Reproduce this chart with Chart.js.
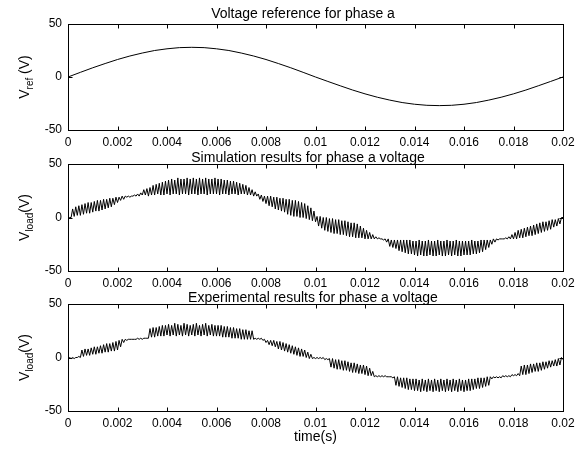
<!DOCTYPE html>
<html>
<head>
<meta charset="utf-8">
<script src="https://cdn.jsdelivr.net/npm/chart.js@4.4.1/dist/chart.umd.min.js"></script>
<style>
  body { margin: 0; background: #fff; }
  #wrap { position: relative; width: 581px; height: 449px; }
  canvas { position: absolute; left: 0; }
</style>
</head>
<body>
<div id="wrap">
  <canvas id="c1" width="581" height="150" style="top:0"></canvas>
  <canvas id="c2" width="581" height="150" style="top:140px"></canvas>
  <canvas id="c3" width="581" height="169" style="top:280px"></canvas>
</div>
<script>
// ---- data ----
const xTicks = ["0", "0.002", "0.004", "0.006", "0.008", "0.01", "0.012", "0.014", "0.016", "0.018", "0.02"];
const yTicks = ["-50", "0", "50"];

// reference sine, one value every 0.5 ms
const refStep = 0.0005;
const vRef = [0, 4.4, 8.7, 12.7, 16.5, 19.8, 22.6, 25, 26.6, 27.7,
              28, 27.7, 26.6, 25, 22.6, 19.8, 16.5, 12.7, 8.7, 4.4,
              0, -4.2, -8.3, -12.3, -15.9, -19.1, -21.8, -24.1, -25.7, -26.7,
              -27, -26.7, -25.7, -24.1, -21.8, -19.1, -15.9, -12.3, -8.3, -4.2, 0];

// switching waveforms: low / high level of each switching period
// (8 periods per ms, one row per ms)
const pwmStep = 0.000125;
const simLo = [
  0, 0, 1, 2, 2, 3, 4, 4,
  5, 6, 6, 7, 8, 9, 10, 12,
  14, 16, 17, 19, 19, 20, 20, 20,
  21, 21, 20, 21, 21, 22, 21, 21,
  22, 21, 22, 22, 21, 22, 22, 21,
  22, 22, 21, 22, 22, 21, 22, 22,
  22, 21, 22, 22, 21, 22, 22, 21,
  22, 22, 21, 21, 20, 20, 17, 15,
  13, 11, 10, 8, 7, 6, 5, 3,
  2, 1, 1, 0, 0, -1, -2, -3,
  -4, -8, -10, -12, -13, -14, -15, -15,
  -16, -16, -17, -18, -18, -19, -19, -19,
  -20, -20, -20, -20, -20, -20, -21, -23,
  -27, -28, -29, -31, -32, -33, -34, -34,
  -35, -36, -35, -36, -36, -35, -36, -36,
  -35, -36, -36, -35, -36, -35, -36, -36,
  -35, -35, -35, -34, -34, -33, -32, -30,
  -28, -25, -23, -21, -20, -20, -20, -20,
  -20, -20, -19, -19, -18, -17, -17, -16,
  -15, -14, -13, -12, -11, -9, -8, -6,
  0];
const simHi = [
  0, 8, 10, 11, 12, 13, 14, 14,
  15, 16, 16, 17, 17, 18, 18, 19,
  19, 20, 20, 20, 20, 21, 22, 23,
  26, 27, 28, 30, 31, 32, 33, 34,
  35, 36, 35, 37, 36, 36, 37, 36,
  37, 36, 37, 36, 37, 36, 36, 37,
  36, 36, 35, 35, 34, 34, 33, 32,
  31, 30, 28, 26, 24, 22, 21, 20,
  20, 20, 19, 19, 18, 18, 17, 17,
  16, 16, 15, 14, 13, 11, 9, 6,
  1, 1, 0, 0, -1, -1, -2, -2,
  -3, -3, -4, -5, -5, -6, -8, -10,
  -12, -14, -16, -18, -19, -20, -20, -20,
  -21, -21, -21, -21, -21, -21, -21, -22,
  -22, -21, -22, -22, -21, -22, -22, -21,
  -22, -22, -21, -22, -22, -21, -22, -22,
  -22, -22, -21, -22, -22, -21, -21, -21,
  -21, -20, -20, -20, -20, -19, -18, -16,
  -14, -12, -11, -10, -9, -8, -7, -6,
  -5, -4, -4, -3, -2, -2, -1, 0];
const expLo = [
  -1, -1, -1, 0, 0, 1, 2, 2,
  3, 3, 4, 4, 5, 5, 6, 6,
  7, 10, 14, 16, 17, 17, 17, 17,
  17, 18, 18, 19, 19, 20, 20, 20,
  21, 20, 21, 20, 21, 20, 21, 20,
  21, 20, 21, 20, 21, 20, 21, 20,
  20, 20, 19, 19, 19, 18, 18, 18,
  17, 17, 17, 17, 17, 17, 17, 16,
  14, 12, 11, 10, 8, 7, 6, 5,
  4, 3, 2, 1, 1, 0, -1, -1,
  -1, -1, -1, -2, -2, -9, -10, -11,
  -11, -12, -12, -13, -14, -14, -15, -15,
  -16, -17, -17, -18, -18, -18, -18, -18,
  -18, -19, -26, -27, -28, -29, -30, -30,
  -31, -31, -32, -31, -32, -31, -32, -31,
  -32, -31, -32, -31, -32, -31, -32, -31,
  -32, -31, -31, -30, -29, -29, -28, -27,
  -26, -20, -19, -19, -19, -18, -18, -18,
  -17, -17, -17, -16, -16, -15, -14, -13,
  -13, -12, -11, -10, -9, -8, -8, -7,
  -2];
const expHi = [
  0, 0, 0, 1, 7, 8, 8, 9,
  10, 10, 11, 12, 13, 13, 14, 15,
  16, 17, 17, 17, 17, 17, 18, 18,
  18, 18, 27, 28, 28, 29, 30, 30,
  31, 30, 32, 31, 30, 32, 31, 30,
  31, 32, 30, 31, 32, 30, 31, 30,
  30, 30, 29, 29, 28, 28, 27, 27,
  26, 26, 25, 25, 18, 18, 18, 17,
  16, 16, 16, 15, 15, 14, 13, 12,
  11, 10, 9, 8, 7, 5, 3, 0,
  0, 0, 0, -1, -1, -1, -2, -2,
  -3, -3, -4, -5, -5, -6, -7, -7,
  -8, -10, -13, -17, -17, -17, -17, -18,
  -18, -18, -18, -19, -19, -19, -20, -20,
  -20, -21, -20, -21, -20, -21, -20, -21,
  -20, -21, -20, -21, -20, -21, -20, -21,
  -21, -20, -20, -20, -19, -19, -19, -18,
  -18, -18, -18, -18, -17, -17, -17, -16,
  -16, -15, -8, -7, -7, -6, -6, -5,
  -5, -4, -4, -3, -3, -2, -1, 0];

// ---- helpers ----
const FONT = 'Arial, "Liberation Sans", sans-serif';
Chart.defaults.font.family = FONT;
Chart.defaults.font.size = 12;
Chart.defaults.color = "#000";

function samples(vals, step) {
  return vals.map((v, i) => ({ x: i * step, y: v }));
}

function zigzag(lo, hi, step) {
  const pts = [];
  lo.forEach((v, i) => {
    pts.push({ x: i * step, y: v });
    if (i < hi.length) pts.push({ x: i * step + step / 2, y: hi[i] });
  });
  return pts;
}

// MATLAB-like box, inward ticks, title and subscripted y label
function decoPlugin(cfg) {
  return {
    id: "deco",
    afterDraw(chart) {
      const { ctx, chartArea: a, scales: { x, y } } = chart;
      const L = Math.round(a.left) + 0.5, R = Math.round(a.right) + 0.5;
      const T = Math.round(a.top) + 0.5, B = Math.round(a.bottom) + 0.5;
      ctx.save();
      ctx.strokeStyle = "#000";
      ctx.lineWidth = 1;
      ctx.strokeRect(L, T, R - L, B - T);
      ctx.beginPath();
      x.ticks.forEach(t => {
        const px = Math.round(x.getPixelForValue(t.value)) + 0.5;
        ctx.moveTo(px, B); ctx.lineTo(px, B - 4);
        ctx.moveTo(px, T); ctx.lineTo(px, T + 4);
      });
      y.ticks.forEach(t => {
        const py = Math.round(y.getPixelForValue(t.value)) + 0.5;
        ctx.moveTo(L, py); ctx.lineTo(L + 4, py);
        ctx.moveTo(R, py); ctx.lineTo(R - 4, py);
      });
      ctx.stroke();

      ctx.fillStyle = "#000";
      ctx.font = "14px " + FONT;
      ctx.textAlign = "center";
      ctx.textBaseline = "alphabetic";
      ctx.fillText(cfg.title, cfg.titleX, cfg.titleY);

      // rotated y label: V + subscript + rest
      ctx.translate(29, (a.top + a.bottom) / 2);
      ctx.rotate(-Math.PI / 2);
      ctx.textAlign = "left";
      const big = "14px " + FONT, small = "10px " + FONT;
      ctx.font = big;
      const wV = ctx.measureText("V").width;
      const wRest = ctx.measureText(cfg.yRest).width;
      ctx.font = small;
      const wSub = ctx.measureText(cfg.ySub).width;
      let sx = -(wV + wSub + wRest) / 2;
      ctx.font = big;
      ctx.fillText("V", sx, 0);
      sx += wV;
      ctx.font = small;
      ctx.fillText(cfg.ySub, sx, 4);
      sx += wSub;
      ctx.font = big;
      ctx.fillText(cfg.yRest, sx, 0);
      ctx.restore();
    }
  };
}

function makeChart(id, points, cfg) {
  new Chart(document.getElementById(id), {
    type: "line",
    data: {
      datasets: [{
        data: points,
        borderColor: "#000",
        borderWidth: 1,
        pointRadius: 0,
        tension: 0,
        fill: false
      }]
    },
    options: {
      responsive: false,
      animation: false,
      devicePixelRatio: 1,
      layout: { padding: { top: 24, right: 18, bottom: 0, left: 0 } },
      plugins: { legend: { display: false }, tooltip: { enabled: false } },
      scales: {
        x: {
          type: "linear", min: 0, max: 0.02,
          grid: { display: false, drawTicks: false },
          border: { display: false },
          ticks: { stepSize: 0.002, padding: 5, maxRotation: 0, autoSkip: false,
                   callback: (v, i) => xTicks[i] },
          title: cfg.xTitle
            ? { display: true, text: cfg.xTitle, font: { size: 14 }, padding: { top: 0, bottom: 3 } }
            : { display: false },
          afterFit: s => { s.height = cfg.xHeight; }
        },
        y: {
          min: -50, max: 50,
          grid: { display: false, drawTicks: false },
          border: { display: false },
          ticks: { stepSize: 50, padding: 6, callback: (v, i) => yTicks[i] },
          afterFit: s => { s.width = 68; }
        }
      }
    },
    plugins: [decoPlugin(cfg)]
  });
}

makeChart("c1", samples(vRef, refStep), {
  title: "Voltage reference for phase a", titleX: 303, titleY: 18,
  ySub: "ref", yRest: " (V)", xHeight: 20
});
makeChart("c2", zigzag(simLo, simHi, pwmStep), {
  title: "Simulation results for phase a voltage", titleX: 308, titleY: 22,
  ySub: "load", yRest: "(V)", xHeight: 19
});
makeChart("c3", zigzag(expLo, expHi, pwmStep), {
  title: "Experimental results for phase a voltage", titleX: 313, titleY: 22,
  ySub: "load", yRest: "(V)", xHeight: 38, xTitle: "time(s)"
});
</script>
</body>
</html>
